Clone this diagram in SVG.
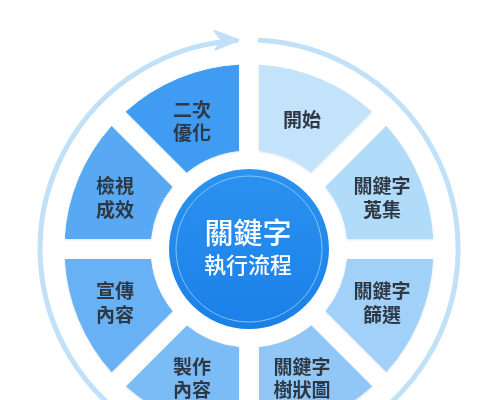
<svg xmlns="http://www.w3.org/2000/svg" width="500" height="400" viewBox="0 0 500 400">
<defs>
<style>
.seg path{stroke-width:12;stroke-linejoin:round}
.lbl{font-family:"Noto Sans CJK TC","Noto Sans CJK SC",sans-serif;font-size:19px;font-weight:700;fill:#2f3844;text-anchor:middle}
.ctr{font-family:"Noto Sans CJK TC","Noto Sans CJK SC",sans-serif;fill:#ffffff;text-anchor:middle;font-weight:500}
</style>
<path id="sector" d="M259.50,65.30 A184,184 0 0 1 371.47,111.68 L311.18,171.97 A99,99 0 0 0 259.50,150.56 Z"/>
<linearGradient id="cg" x1="0" y1="0" x2="0" y2="1">
<stop offset="0" stop-color="#2b92f0"/>
<stop offset="1" stop-color="#1a80e8"/>
</linearGradient>
<filter id="sh" x="-10%" y="-10%" width="120%" height="120%">
<feDropShadow dx="0" dy="1" stdDeviation="1.2" flood-color="#3a78b8" flood-opacity="0.18"/>
</filter>
</defs>
<rect width="500" height="400" fill="#ffffff"/>
<g id="connectors">
<path d="M259.89,40.29 A209,209 0 1 1 236.3,40.4" fill="none" stroke="#c0e1f8" stroke-width="5" stroke-linecap="round"/>
<path d="M239,40 L214,30.5 L221.5,40.5 L215,50 Z" fill="#c0e1f8" stroke="#c0e1f8" stroke-width="1.5" stroke-linejoin="round"/>
</g>
<g filter="url(#sh)">
<g id="node-start" class="seg"><use href="#sector" fill="#c3e3fb" stroke="#c3e3fb"/><text class="lbl" x="302" y="127">開始</text></g>
<g id="node-collect" class="seg"><use href="#sector" transform="rotate(45 249 249)" fill="#b0dbf9" stroke="#b0dbf9"/><text class="lbl" x="382" y="193">關鍵字</text><text class="lbl" x="382" y="217">蒐集</text></g>
<g id="node-filter" class="seg"><use href="#sector" transform="rotate(90 249 249)" fill="#a1d1f8" stroke="#a1d1f8"/><text class="lbl" x="382" y="298">關鍵字</text><text class="lbl" x="382" y="322">篩選</text></g>
<g id="node-tree" class="seg"><use href="#sector" transform="rotate(135 249 249)" fill="#90c7f7" stroke="#90c7f7"/><text class="lbl" x="302" y="374">關鍵字</text><text class="lbl" x="302" y="397">樹狀圖</text></g>
<g id="node-make" class="seg"><use href="#sector" transform="rotate(180 249 249)" fill="#7cbcf6" stroke="#7cbcf6"/><text class="lbl" x="192" y="374">製作</text><text class="lbl" x="192" y="397">內容</text></g>
<g id="node-promote" class="seg"><use href="#sector" transform="rotate(225 249 249)" fill="#68b1f4" stroke="#68b1f4"/><text class="lbl" x="115" y="298">宣傳</text><text class="lbl" x="115" y="322">內容</text></g>
<g id="node-review" class="seg"><use href="#sector" transform="rotate(270 249 249)" fill="#58a8f3" stroke="#58a8f3"/><text class="lbl" x="115" y="193">檢視</text><text class="lbl" x="115" y="217">成效</text></g>
<g id="node-optimize" class="seg"><use href="#sector" transform="rotate(315 249 249)" fill="#409cf3" stroke="#409cf3"/><text class="lbl" x="192" y="117">二次</text><text class="lbl" x="192" y="140">優化</text></g>
</g>
<g id="node-center">
<circle cx="249" cy="249" r="80" fill="url(#cg)"/>
<circle cx="249" cy="249" r="73" fill="none" stroke="#9fd0f8" stroke-opacity="0.8" stroke-width="1"/>
<text class="ctr" x="248" y="244" font-size="29">關鍵字</text>
<text class="ctr" x="248" y="273" font-size="22">執行流程</text>
</g>
</svg>
